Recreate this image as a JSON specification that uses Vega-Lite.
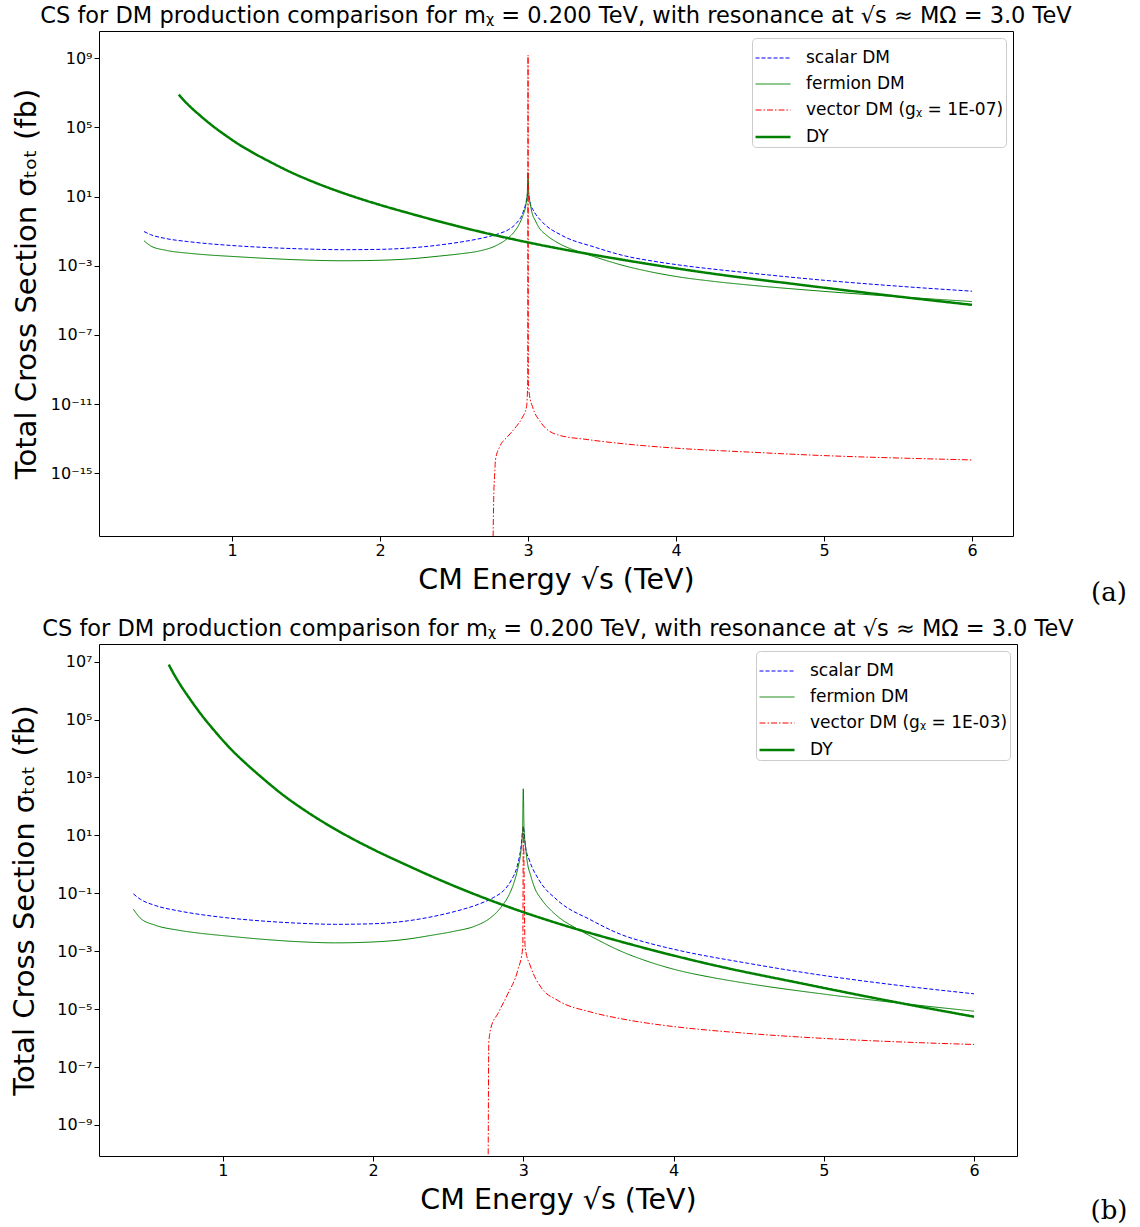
{
  "$schema": "https://vega.github.io/schema/vega-lite/v6.json",
  "background": "white",
  "padding": {"left": 10, "top": 4, "right": 5, "bottom": 5},
  "columns": 1,
  "align": "none",
  "spacing": 10,
  "config": {
    "font": "DejaVu Sans",
    "view": {"stroke": "black", "strokeWidth": 1},
    "axis": {"domain": false, "grid": false, "tickColor": "black", "tickSize": 5, "labelColor": "black", "titleColor": "black", "labelFontSize": 16, "titleFontSize": 27, "titleFontWeight": "normal", "labelFont": "DejaVu Sans", "titleFont": "DejaVu Sans"},
    "axisX": {"labelPadding": 1, "titlePadding": 7, "titleFontSize": 28.5},
    "axisY": {"labelPadding": 2, "titleFontSize": 29},
    "title": {"fontSize": 22.5, "fontWeight": "normal", "font": "DejaVu Sans", "color": "black", "offset": 3.5},
    "legend": {"orient": "top-right", "offset": 7, "padding": 2, "strokeColor": "#cccccc", "cornerRadius": 4, "fillColor": "white", "labelFontSize": 17, "labelFont": "DejaVu Sans", "labelColor": "black", "labelLimit": 0, "symbolType": "stroke", "symbolSize": 1225, "labelOffset": 14, "rowPadding": 0, "title": null}
  },
  "datasets": {
    "a": [
      {"s": "scalar DM", "x": 0.405, "y": 9.55e-2},
      {"s": "scalar DM", "x": 0.45, "y": 6.31e-2},
      {"s": "scalar DM", "x": 0.55, "y": 3.80e-2},
      {"s": "scalar DM", "x": 0.7, "y": 2.51e-2},
      {"s": "scalar DM", "x": 0.85, "y": 1.86e-2},
      {"s": "scalar DM", "x": 1.0, "y": 1.48e-2},
      {"s": "scalar DM", "x": 1.25, "y": 1.12e-2},
      {"s": "scalar DM", "x": 1.5, "y": 9.33e-3},
      {"s": "scalar DM", "x": 1.75, "y": 8.51e-3},
      {"s": "scalar DM", "x": 2.0, "y": 8.91e-3},
      {"s": "scalar DM", "x": 2.2, "y": 1.07e-2},
      {"s": "scalar DM", "x": 2.4, "y": 1.585e-2},
      {"s": "scalar DM", "x": 2.55, "y": 2.40e-2},
      {"s": "scalar DM", "x": 2.7, "y": 4.17e-2},
      {"s": "scalar DM", "x": 2.8, "y": 7.08e-2},
      {"s": "scalar DM", "x": 2.87, "y": 1.26e-1},
      {"s": "scalar DM", "x": 2.92, "y": 2.82e-1},
      {"s": "scalar DM", "x": 2.96, "y": 8.91e-1},
      {"s": "scalar DM", "x": 2.985, "y": 3.98},
      {"s": "scalar DM", "x": 3.0, "y": 15.8},
      {"s": "scalar DM", "x": 3.015, "y": 3.98},
      {"s": "scalar DM", "x": 3.04, "y": 1.41},
      {"s": "scalar DM", "x": 3.1, "y": 3.16e-1},
      {"s": "scalar DM", "x": 3.23, "y": 5.62e-2},
      {"s": "scalar DM", "x": 3.45, "y": 1.20e-2},
      {"s": "scalar DM", "x": 3.65, "y": 3.80e-3},
      {"s": "scalar DM", "x": 3.85, "y": 1.82e-3},
      {"s": "scalar DM", "x": 4.0, "y": 1.175e-3},
      {"s": "scalar DM", "x": 4.5, "y": 3.80e-4},
      {"s": "scalar DM", "x": 5.0, "y": 1.45e-4},
      {"s": "scalar DM", "x": 5.5, "y": 6.61e-5},
      {"s": "scalar DM", "x": 6.0, "y": 3.39e-5},
      {"s": "fermion DM", "x": 0.405, "y": 2.82e-2},
      {"s": "fermion DM", "x": 0.45, "y": 1.41e-2},
      {"s": "fermion DM", "x": 0.55, "y": 7.94e-3},
      {"s": "fermion DM", "x": 0.7, "y": 5.37e-3},
      {"s": "fermion DM", "x": 0.85, "y": 4.17e-3},
      {"s": "fermion DM", "x": 1.0, "y": 3.47e-3},
      {"s": "fermion DM", "x": 1.25, "y": 2.63e-3},
      {"s": "fermion DM", "x": 1.5, "y": 2.14e-3},
      {"s": "fermion DM", "x": 1.75, "y": 1.95e-3},
      {"s": "fermion DM", "x": 2.0, "y": 2.09e-3},
      {"s": "fermion DM", "x": 2.2, "y": 2.51e-3},
      {"s": "fermion DM", "x": 2.4, "y": 3.63e-3},
      {"s": "fermion DM", "x": 2.55, "y": 5.01e-3},
      {"s": "fermion DM", "x": 2.674, "y": 7.24e-3},
      {"s": "fermion DM", "x": 2.78, "y": 1.41e-2},
      {"s": "fermion DM", "x": 2.852, "y": 3.31e-2},
      {"s": "fermion DM", "x": 2.91, "y": 1.0e-1},
      {"s": "fermion DM", "x": 2.94, "y": 2.51e-1},
      {"s": "fermion DM", "x": 2.965, "y": 7.94e-1},
      {"s": "fermion DM", "x": 2.985, "y": 3.16},
      {"s": "fermion DM", "x": 2.995, "y": 15.8},
      {"s": "fermion DM", "x": 3.0, "y": 234},
      {"s": "fermion DM", "x": 3.005, "y": 15.8},
      {"s": "fermion DM", "x": 3.015, "y": 3.98},
      {"s": "fermion DM", "x": 3.025, "y": 1.38},
      {"s": "fermion DM", "x": 3.05, "y": 3.98e-1},
      {"s": "fermion DM", "x": 3.074, "y": 1.62e-1},
      {"s": "fermion DM", "x": 3.12, "y": 6.31e-2},
      {"s": "fermion DM", "x": 3.185, "y": 2.57e-2},
      {"s": "fermion DM", "x": 3.26, "y": 1.20e-2},
      {"s": "fermion DM", "x": 3.34, "y": 6.76e-3},
      {"s": "fermion DM", "x": 3.5, "y": 2.40e-3},
      {"s": "fermion DM", "x": 3.65, "y": 1.0e-3},
      {"s": "fermion DM", "x": 3.8, "y": 5.01e-4},
      {"s": "fermion DM", "x": 4.0, "y": 2.40e-4},
      {"s": "fermion DM", "x": 4.25, "y": 1.26e-4},
      {"s": "fermion DM", "x": 4.5, "y": 7.59e-5},
      {"s": "fermion DM", "x": 5.0, "y": 3.31e-5},
      {"s": "fermion DM", "x": 5.5, "y": 1.62e-5},
      {"s": "fermion DM", "x": 6.0, "y": 8.51e-6},
      {"s": "vector DM (gᵪ = 1E-07)", "x": 2.762, "y": 1e-20},
      {"s": "vector DM (gᵪ = 1E-07)", "x": 2.768, "y": 3.16e-17},
      {"s": "vector DM (gᵪ = 1E-07)", "x": 2.775, "y": 1e-15},
      {"s": "vector DM (gᵪ = 1E-07)", "x": 2.78, "y": 5.89e-15},
      {"s": "vector DM (gᵪ = 1E-07)", "x": 2.809, "y": 3.47e-14},
      {"s": "vector DM (gᵪ = 1E-07)", "x": 2.86, "y": 1.26e-13},
      {"s": "vector DM (gᵪ = 1E-07)", "x": 2.92, "y": 5.01e-13},
      {"s": "vector DM (gᵪ = 1E-07)", "x": 2.96, "y": 1.585e-12},
      {"s": "vector DM (gᵪ = 1E-07)", "x": 2.99, "y": 7.08e-12},
      {"s": "vector DM (gᵪ = 1E-07)", "x": 2.998, "y": 2.51e-10},
      {"s": "vector DM (gᵪ = 1E-07)", "x": 3.0, "y": 1.55e9},
      {"s": "vector DM (gᵪ = 1E-07)", "x": 3.002, "y": 2.51e-10},
      {"s": "vector DM (gᵪ = 1E-07)", "x": 3.01, "y": 3.16e-11},
      {"s": "vector DM (gᵪ = 1E-07)", "x": 3.03, "y": 7.08e-12},
      {"s": "vector DM (gᵪ = 1E-07)", "x": 3.09, "y": 7.94e-13},
      {"s": "vector DM (gᵪ = 1E-07)", "x": 3.2, "y": 1.66e-13},
      {"s": "vector DM (gᵪ = 1E-07)", "x": 3.4, "y": 8.91e-14},
      {"s": "vector DM (gᵪ = 1E-07)", "x": 3.65, "y": 5.01e-14},
      {"s": "vector DM (gᵪ = 1E-07)", "x": 4.0, "y": 2.82e-14},
      {"s": "vector DM (gᵪ = 1E-07)", "x": 4.5, "y": 1.66e-14},
      {"s": "vector DM (gᵪ = 1E-07)", "x": 5.0, "y": 1.047e-14},
      {"s": "vector DM (gᵪ = 1E-07)", "x": 5.5, "y": 7.59e-15},
      {"s": "vector DM (gᵪ = 1E-07)", "x": 6.0, "y": 5.89e-15},
      {"s": "DY", "x": 0.64, "y": 7.94e6},
      {"s": "DY", "x": 0.68, "y": 3.31e6},
      {"s": "DY", "x": 0.72, "y": 1.51e6},
      {"s": "DY", "x": 0.78, "y": 5.25e5},
      {"s": "DY", "x": 0.86, "y": 1.41e5},
      {"s": "DY", "x": 0.95, "y": 3.80e4},
      {"s": "DY", "x": 1.05, "y": 1.0e4},
      {"s": "DY", "x": 1.15, "y": 3.16e3},
      {"s": "DY", "x": 1.25, "y": 1.10e3},
      {"s": "DY", "x": 1.4, "y": 251},
      {"s": "DY", "x": 1.55, "y": 70.8},
      {"s": "DY", "x": 1.7, "y": 22.9},
      {"s": "DY", "x": 1.85, "y": 8.32},
      {"s": "DY", "x": 2.0, "y": 3.31},
      {"s": "DY", "x": 2.2, "y": 1.072},
      {"s": "DY", "x": 2.45, "y": 2.82e-1},
      {"s": "DY", "x": 2.7, "y": 8.32e-2},
      {"s": "DY", "x": 3.0, "y": 2.24e-2},
      {"s": "DY", "x": 3.3, "y": 7.08e-3},
      {"s": "DY", "x": 3.65, "y": 2.14e-3},
      {"s": "DY", "x": 4.2, "y": 3.98e-4},
      {"s": "DY", "x": 4.87, "y": 7.41e-5},
      {"s": "DY", "x": 5.4, "y": 2.09e-5},
      {"s": "DY", "x": 6.0, "y": 5.50e-6}
    ],
    "b": [
      {"s": "scalar DM", "x": 0.405, "y": 9.55e-2},
      {"s": "scalar DM", "x": 0.45, "y": 6.31e-2},
      {"s": "scalar DM", "x": 0.55, "y": 3.80e-2},
      {"s": "scalar DM", "x": 0.7, "y": 2.51e-2},
      {"s": "scalar DM", "x": 0.85, "y": 1.86e-2},
      {"s": "scalar DM", "x": 1.0, "y": 1.48e-2},
      {"s": "scalar DM", "x": 1.25, "y": 1.12e-2},
      {"s": "scalar DM", "x": 1.5, "y": 9.33e-3},
      {"s": "scalar DM", "x": 1.75, "y": 8.51e-3},
      {"s": "scalar DM", "x": 2.0, "y": 8.91e-3},
      {"s": "scalar DM", "x": 2.2, "y": 1.07e-2},
      {"s": "scalar DM", "x": 2.4, "y": 1.585e-2},
      {"s": "scalar DM", "x": 2.55, "y": 2.40e-2},
      {"s": "scalar DM", "x": 2.7, "y": 4.17e-2},
      {"s": "scalar DM", "x": 2.8, "y": 7.08e-2},
      {"s": "scalar DM", "x": 2.87, "y": 1.26e-1},
      {"s": "scalar DM", "x": 2.92, "y": 2.82e-1},
      {"s": "scalar DM", "x": 2.96, "y": 8.91e-1},
      {"s": "scalar DM", "x": 2.985, "y": 3.98},
      {"s": "scalar DM", "x": 3.0, "y": 19.5},
      {"s": "scalar DM", "x": 3.015, "y": 3.98},
      {"s": "scalar DM", "x": 3.04, "y": 1.41},
      {"s": "scalar DM", "x": 3.1, "y": 3.16e-1},
      {"s": "scalar DM", "x": 3.23, "y": 5.62e-2},
      {"s": "scalar DM", "x": 3.45, "y": 1.20e-2},
      {"s": "scalar DM", "x": 3.65, "y": 3.80e-3},
      {"s": "scalar DM", "x": 3.85, "y": 1.82e-3},
      {"s": "scalar DM", "x": 4.0, "y": 1.175e-3},
      {"s": "scalar DM", "x": 4.5, "y": 3.80e-4},
      {"s": "scalar DM", "x": 5.0, "y": 1.45e-4},
      {"s": "scalar DM", "x": 5.5, "y": 6.61e-5},
      {"s": "scalar DM", "x": 6.0, "y": 3.39e-5},
      {"s": "fermion DM", "x": 0.405, "y": 2.82e-2},
      {"s": "fermion DM", "x": 0.45, "y": 1.41e-2},
      {"s": "fermion DM", "x": 0.55, "y": 7.94e-3},
      {"s": "fermion DM", "x": 0.7, "y": 5.37e-3},
      {"s": "fermion DM", "x": 0.85, "y": 4.17e-3},
      {"s": "fermion DM", "x": 1.0, "y": 3.47e-3},
      {"s": "fermion DM", "x": 1.25, "y": 2.63e-3},
      {"s": "fermion DM", "x": 1.5, "y": 2.14e-3},
      {"s": "fermion DM", "x": 1.75, "y": 1.95e-3},
      {"s": "fermion DM", "x": 2.0, "y": 2.09e-3},
      {"s": "fermion DM", "x": 2.2, "y": 2.51e-3},
      {"s": "fermion DM", "x": 2.4, "y": 3.63e-3},
      {"s": "fermion DM", "x": 2.55, "y": 5.01e-3},
      {"s": "fermion DM", "x": 2.674, "y": 7.24e-3},
      {"s": "fermion DM", "x": 2.78, "y": 1.41e-2},
      {"s": "fermion DM", "x": 2.852, "y": 3.31e-2},
      {"s": "fermion DM", "x": 2.91, "y": 1.0e-1},
      {"s": "fermion DM", "x": 2.94, "y": 2.51e-1},
      {"s": "fermion DM", "x": 2.965, "y": 7.94e-1},
      {"s": "fermion DM", "x": 2.985, "y": 3.16},
      {"s": "fermion DM", "x": 2.995, "y": 15.8},
      {"s": "fermion DM", "x": 3.0, "y": 407},
      {"s": "fermion DM", "x": 3.005, "y": 15.8},
      {"s": "fermion DM", "x": 3.015, "y": 3.98},
      {"s": "fermion DM", "x": 3.025, "y": 1.38},
      {"s": "fermion DM", "x": 3.05, "y": 3.98e-1},
      {"s": "fermion DM", "x": 3.074, "y": 1.62e-1},
      {"s": "fermion DM", "x": 3.12, "y": 6.31e-2},
      {"s": "fermion DM", "x": 3.185, "y": 2.57e-2},
      {"s": "fermion DM", "x": 3.26, "y": 1.20e-2},
      {"s": "fermion DM", "x": 3.34, "y": 6.76e-3},
      {"s": "fermion DM", "x": 3.5, "y": 2.40e-3},
      {"s": "fermion DM", "x": 3.65, "y": 1.0e-3},
      {"s": "fermion DM", "x": 3.8, "y": 5.01e-4},
      {"s": "fermion DM", "x": 4.0, "y": 2.40e-4},
      {"s": "fermion DM", "x": 4.25, "y": 1.26e-4},
      {"s": "fermion DM", "x": 4.5, "y": 7.59e-5},
      {"s": "fermion DM", "x": 5.0, "y": 3.31e-5},
      {"s": "fermion DM", "x": 5.5, "y": 1.62e-5},
      {"s": "fermion DM", "x": 6.0, "y": 8.51e-6},
      {"s": "vector DM (gᵪ = 1E-03)", "x": 2.765, "y": 1e-12},
      {"s": "vector DM (gᵪ = 1E-03)", "x": 2.768, "y": 1e-8},
      {"s": "vector DM (gᵪ = 1E-03)", "x": 2.77, "y": 6.46e-7},
      {"s": "vector DM (gᵪ = 1E-03)", "x": 2.786, "y": 2.40e-6},
      {"s": "vector DM (gᵪ = 1E-03)", "x": 2.83, "y": 6.92e-6},
      {"s": "vector DM (gᵪ = 1E-03)", "x": 2.897, "y": 3.39e-5},
      {"s": "vector DM (gᵪ = 1E-03)", "x": 2.963, "y": 2.19e-4},
      {"s": "vector DM (gᵪ = 1E-03)", "x": 2.997, "y": 1.38e-3},
      {"s": "vector DM (gᵪ = 1E-03)", "x": 3.0, "y": 20},
      {"s": "vector DM (gᵪ = 1E-03)", "x": 3.012, "y": 1.38e-3},
      {"s": "vector DM (gᵪ = 1E-03)", "x": 3.05, "y": 2.82e-4},
      {"s": "vector DM (gᵪ = 1E-03)", "x": 3.117, "y": 5.75e-5},
      {"s": "vector DM (gᵪ = 1E-03)", "x": 3.23, "y": 2.0e-5},
      {"s": "vector DM (gᵪ = 1E-03)", "x": 3.45, "y": 7.94e-6},
      {"s": "vector DM (gᵪ = 1E-03)", "x": 3.65, "y": 4.68e-6},
      {"s": "vector DM (gᵪ = 1E-03)", "x": 3.85, "y": 3.16e-6},
      {"s": "vector DM (gᵪ = 1E-03)", "x": 4.0, "y": 2.51e-6},
      {"s": "vector DM (gᵪ = 1E-03)", "x": 4.5, "y": 1.445e-6},
      {"s": "vector DM (gᵪ = 1E-03)", "x": 5.0, "y": 9.77e-7},
      {"s": "vector DM (gᵪ = 1E-03)", "x": 5.5, "y": 7.41e-7},
      {"s": "vector DM (gᵪ = 1E-03)", "x": 6.0, "y": 6.03e-7},
      {"s": "DY", "x": 0.64, "y": 7.94e6},
      {"s": "DY", "x": 0.68, "y": 3.31e6},
      {"s": "DY", "x": 0.72, "y": 1.51e6},
      {"s": "DY", "x": 0.78, "y": 5.25e5},
      {"s": "DY", "x": 0.86, "y": 1.41e5},
      {"s": "DY", "x": 0.95, "y": 3.80e4},
      {"s": "DY", "x": 1.05, "y": 1.0e4},
      {"s": "DY", "x": 1.15, "y": 3.16e3},
      {"s": "DY", "x": 1.25, "y": 1.10e3},
      {"s": "DY", "x": 1.4, "y": 251},
      {"s": "DY", "x": 1.55, "y": 70.8},
      {"s": "DY", "x": 1.7, "y": 22.9},
      {"s": "DY", "x": 1.85, "y": 8.32},
      {"s": "DY", "x": 2.0, "y": 3.31},
      {"s": "DY", "x": 2.2, "y": 1.072},
      {"s": "DY", "x": 2.45, "y": 2.82e-1},
      {"s": "DY", "x": 2.7, "y": 8.32e-2},
      {"s": "DY", "x": 3.0, "y": 2.24e-2},
      {"s": "DY", "x": 3.3, "y": 7.08e-3},
      {"s": "DY", "x": 3.65, "y": 2.14e-3},
      {"s": "DY", "x": 4.2, "y": 3.98e-4},
      {"s": "DY", "x": 4.87, "y": 7.41e-5},
      {"s": "DY", "x": 5.4, "y": 2.09e-5},
      {"s": "DY", "x": 6.0, "y": 5.50e-6}
    ]
  },
  "concat": [
    {
      "width": 914,
      "height": 505,
      "title": {"text": "CS for DM production comparison for mᵪ = 0.200 TeV, with resonance at √s ≈ MΩ = 3.0 TeV"},
      "layer": [
        {
          "data": {"name": "a"},
          "mark": {"type": "line", "clip": true, "interpolate": "monotone"},
          "encoding": {
            "x": {"field": "x", "type": "quantitative", "title": "CM Energy √s (TeV)", "scale": {"domain": [0.101, 6.277], "nice": false, "zero": false}, "axis": {"values": [1, 2, 3, 4, 5, 6], "format": "d"}},
            "y": {"field": "y", "type": "quantitative", "title": "Total Cross Section σₜₒₜ (fb)", "scale": {"type": "log", "domain": [2.34e-19, 3.8e10], "nice": false}, "axis": {"titlePadding": 9, "values": [1e9, 1e5, 1e1, 1e-3, 1e-7, 1e-11, 1e-15], "labelExpr": "datum.value > 1e8 ? '10⁹' : datum.value > 1e4 ? '10⁵' : datum.value > 1 ? '10¹' : datum.value > 1e-4 ? '10⁻³' : datum.value > 1e-8 ? '10⁻⁷' : datum.value > 1e-12 ? '10⁻¹¹' : '10⁻¹⁵'"}},
            "color": {"field": "s", "type": "nominal", "title": null, "scale": {"domain": ["scalar DM", "fermion DM", "vector DM (gᵪ = 1E-07)", "DY"], "range": ["#0000ff", "#008000", "#ff0000", "#008000"]}},
            "strokeDash": {"field": "s", "type": "nominal", "title": null, "scale": {"domain": ["scalar DM", "fermion DM", "vector DM (gᵪ = 1E-07)", "DY"], "range": [[4, 2], [1, 0], [6, 2, 1.5, 2], [1, 0]]}},
            "strokeWidth": {"field": "s", "type": "nominal", "title": null, "scale": {"type": "ordinal", "domain": ["scalar DM", "fermion DM", "vector DM (gᵪ = 1E-07)", "DY"], "range": [1, 1, 1, 2.5]}}
          }
        },
        {
          "data": {"values": [{"tag": "(a)"}]},
          "mark": {"type": "text", "font": "DejaVu Serif", "fontSize": 26, "color": "black"},
          "encoding": {
            "x": {"datum": 6.925, "type": "quantitative", "title": "CM Energy √s (TeV)"},
            "y": {"datum": 1.2e-22, "type": "quantitative", "title": "Total Cross Section σₜₒₜ (fb)"},
            "text": {"field": "tag"}
          }
        }
      ]
    },
    {
      "width": 918,
      "height": 512,
      "title": {"text": "CS for DM production comparison for mᵪ = 0.200 TeV, with resonance at √s ≈ MΩ = 3.0 TeV"},
      "layer": [
        {
          "data": {"name": "b"},
          "mark": {"type": "line", "clip": true, "interpolate": "monotone"},
          "encoding": {
            "x": {"field": "x", "type": "quantitative", "title": "CM Energy √s (TeV)", "scale": {"domain": [0.176, 6.286], "nice": false, "zero": false}, "axis": {"values": [1, 2, 3, 4, 5, 6], "format": "d"}},
            "y": {"field": "y", "type": "quantitative", "title": "Total Cross Section σₜₒₜ (fb)", "scale": {"type": "log", "domain": [8.5e-11, 4.07e7], "nice": false}, "axis": {"titlePadding": 17, "values": [1e7, 1e5, 1e3, 1e1, 1e-1, 1e-3, 1e-5, 1e-7, 1e-9], "labelExpr": "datum.value > 1e6 ? '10⁷' : datum.value > 1e4 ? '10⁵' : datum.value > 1e2 ? '10³' : datum.value > 1 ? '10¹' : datum.value > 1e-2 ? '10⁻¹' : datum.value > 1e-4 ? '10⁻³' : datum.value > 1e-6 ? '10⁻⁵' : datum.value > 1e-8 ? '10⁻⁷' : '10⁻⁹'"}},
            "color": {"field": "s", "type": "nominal", "title": null, "scale": {"domain": ["scalar DM", "fermion DM", "vector DM (gᵪ = 1E-03)", "DY"], "range": ["#0000ff", "#008000", "#ff0000", "#008000"]}},
            "strokeDash": {"field": "s", "type": "nominal", "title": null, "scale": {"domain": ["scalar DM", "fermion DM", "vector DM (gᵪ = 1E-03)", "DY"], "range": [[4, 2], [1, 0], [6, 2, 1.5, 2], [1, 0]]}},
            "strokeWidth": {"field": "s", "type": "nominal", "title": null, "scale": {"type": "ordinal", "domain": ["scalar DM", "fermion DM", "vector DM (gᵪ = 1E-03)", "DY"], "range": [1, 1, 1, 2.5]}}
          }
        },
        {
          "data": {"values": [{"tag": "(b)"}]},
          "mark": {"type": "text", "font": "DejaVu Serif", "fontSize": 26, "color": "black"},
          "encoding": {
            "x": {"datum": 6.898, "type": "quantitative", "title": "CM Energy √s (TeV)"},
            "y": {"datum": 1.07e-12, "type": "quantitative", "title": "Total Cross Section σₜₒₜ (fb)"},
            "text": {"field": "tag"}
          }
        }
      ]
    }
  ],
  "resolve": {"scale": {"color": "independent", "strokeDash": "independent", "strokeWidth": "independent"}}
}
